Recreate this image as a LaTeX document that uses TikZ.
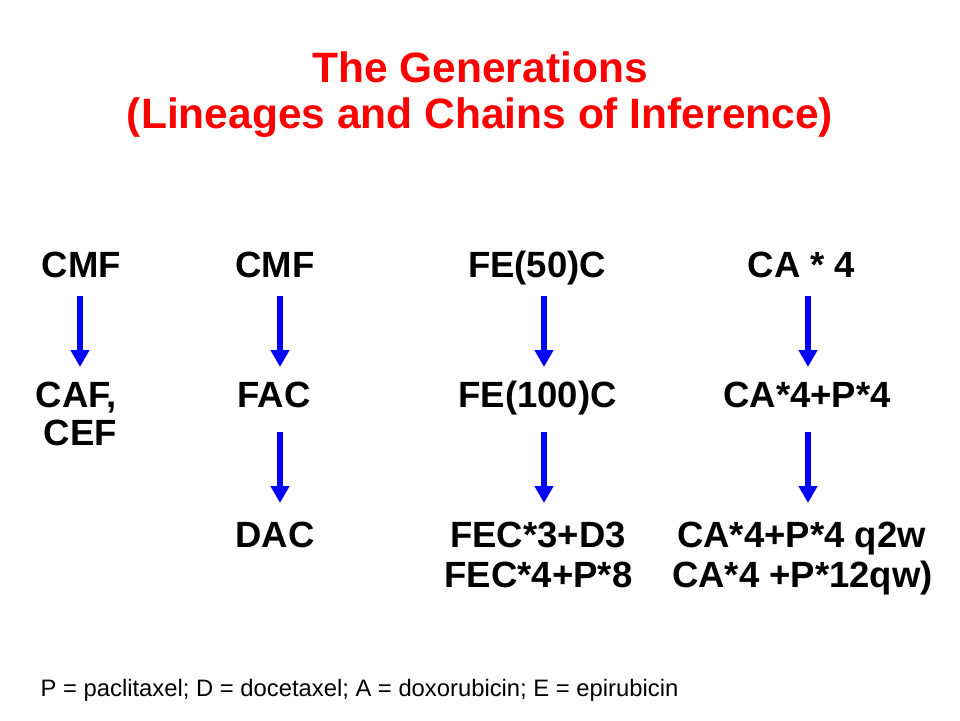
\documentclass[tikz,border=0pt]{standalone}
\usepackage{fontspec}
\setmainfont{Liberation Sans}
\usetikzlibrary{arrows.meta}
\definecolor{titlered}{RGB}{255,0,0}
\definecolor{arrowblue}{RGB}{0,0,255}
\tikzset{
  drug/.style={anchor=base, inner sep=0pt, font=\fontsize{36.5}{39}\selectfont\bfseries},
  titletext/.style={anchor=base, inner sep=0pt, text=titlered, font=\fontsize{42.5}{46}\selectfont\bfseries},
  notetext/.style={anchor=base west, inner sep=0pt, font=\fontsize{23.8}{26}\selectfont},
  genarrow/.style={draw=arrowblue, line width=6pt, -{Triangle[width=18pt,length=17pt]}}
}
\begin{document}
\begin{tikzpicture}[x=1pt,y=-1pt]
\useasboundingbox (0,0) rectangle (960,720);
\fill[white] (0,0) rectangle (960,720);
% title
\node[titletext] (t1) at (480,82) {The Generations};
\node[titletext] (t2) at (480,128) {(Lineages and Chains of Inference)};
% row 1
\node[drug] (a1) at (81.5,277) {CMF};
\node[drug] (b1) at (275,277) {CMF};
\node[drug] (c1) at (537,277) {FE(50)C};
\node[drug] (d1) at (801.5,277) {CA * 4};
% row 2
\node[drug, anchor=base east] (a2) at (117,407) {CAF,};
\node[drug, anchor=base east] (a2b) at (117,445) {CEF};
\node[drug] (b2) at (274,407) {FAC};
\node[drug] (c2) at (537.5,407) {FE(100)C};
\node[drug] (d2) at (807,407) {CA*4+P*4};
% row 3
\node[drug] (b3) at (275,547) {DAC};
\node[drug] (c3) at (538,547) {FEC*3+D3};
\node[drug] (c3b) at (538.5,587) {FEC*4+P*8};
\node[drug] (d3) at (801.5,547) {CA*4+P*4 q2w};
\node[drug] (d3b) at (802.5,587) {CA*4 +P*12qw)};
% footnote
\node[notetext] (note) at (40.5,696.5) {P = paclitaxel; D = docetaxel; A = doxorubicin; E = epirubicin};
% arrow end points
\coordinate (a1s) at (80,296);   \coordinate (a2n) at (80,367);
\coordinate (b1s) at (280,296);  \coordinate (b2n) at (280,367);
\coordinate (c1s) at (544,296);  \coordinate (c2n) at (544,367);
\coordinate (d1s) at (808,296);  \coordinate (d2n) at (808,367);
\coordinate (b2s) at (280,432);  \coordinate (b3n) at (280,503);
\coordinate (c2s) at (544,432);  \coordinate (c3n) at (544,503);
\coordinate (d2s) at (808,432);  \coordinate (d3n) at (808,503);
\draw[genarrow] (a1s) -- (a2n);
\draw[genarrow] (b1s) -- (b2n);
\draw[genarrow] (c1s) -- (c2n);
\draw[genarrow] (d1s) -- (d2n);
\draw[genarrow] (b2s) -- (b3n);
\draw[genarrow] (c2s) -- (c3n);
\draw[genarrow] (d2s) -- (d3n);
\end{tikzpicture}
\end{document}
